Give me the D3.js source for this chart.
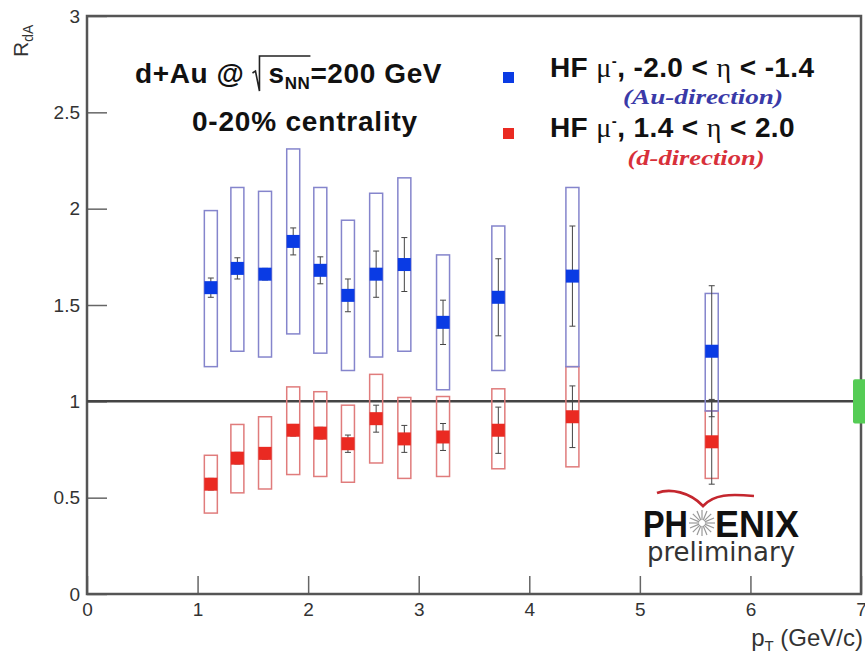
<!DOCTYPE html>
<html>
<head>
<meta charset="utf-8">
<script src="https://cdn.jsdelivr.net/npm/d3@7"></script>
<style>
  body { margin: 0; background: #fff; }
  svg { display: block; }
  .tick text { font-family: "Liberation Sans", Arial, sans-serif; fill: #333; }
</style>
</head>
<body>
<svg id="chart" width="865" height="656"></svg>
<script>
// pT bin centres (GeV/c)
var ptBins = [1.12, 1.36, 1.61, 1.865, 2.11, 2.36, 2.615, 2.87, 3.22, 3.72, 4.39, 5.65];

// Au-direction, -2.0 < eta < -1.4
var auVal   = [1.59, 1.69, 1.66, 1.83, 1.68, 1.55, 1.66, 1.71, 1.41, 1.54, 1.65, 1.26];
var auStat  = [0.05, 0.055, 0.03, 0.07, 0.07, 0.085, 0.12, 0.14, 0.115, 0.20, 0.26, 0.34];
var auSysLo = [1.18, 1.26, 1.23, 1.35, 1.25, 1.16, 1.23, 1.26, 1.06, 1.16, 1.18, 0.95];
var auSysHi = [1.99, 2.11, 2.09, 2.31, 2.11, 1.94, 2.08, 2.16, 1.76, 1.91, 2.11, 1.56];

// d-direction, 1.4 < eta < 2.0
var dVal   = [0.57, 0.705, 0.73, 0.85, 0.835, 0.78, 0.91, 0.805, 0.815, 0.85, 0.92, 0.79];
var dStat  = [0.03, 0.03, 0.03, 0.03, 0.03, 0.045, 0.07, 0.07, 0.07, 0.12, 0.16, 0.22];
var dSysLo = [0.42, 0.525, 0.545, 0.62, 0.61, 0.58, 0.68, 0.60, 0.61, 0.65, 0.66, 0.60];
var dSysHi = [0.72, 0.88, 0.92, 1.075, 1.05, 0.98, 1.14, 1.02, 1.025, 1.065, 1.18, 0.95];

// global normalisation uncertainty at unity
var normUnc = 0.115;

var xTicks = [0, 1, 2, 3, 4, 5, 6, 7];
var yTicks = [0, 0.5, 1, 1.5, 2, 2.5, 3];
var yTickLabels = ["0", "0.5", "1", "1.5", "2", "2.5", "3"];

var svg = d3.select("#chart");
var sans = "'Liberation Sans', Arial, sans-serif";
var serif = "'Liberation Serif', 'Times New Roman', serif";

var x = d3.scaleLinear().domain([0, 7]).range([87, 861]);
var y = d3.scaleLinear().domain([0, 3]).range([594, 16]);

// axes, ticks drawn inward
var yAxis = svg.append("g").attr("transform", "translate(87,0)")
  .call(d3.axisLeft(y).tickValues(yTicks).tickSize(-20).tickPadding(7)
    .tickFormat(function(d, i) { return yTickLabels[i]; }));
var xAxis = svg.append("g").attr("transform", "translate(0,594)")
  .call(d3.axisBottom(x).tickValues(xTicks).tickSize(-18).tickPadding(9)
    .tickFormat(d3.format("d")));
[yAxis, xAxis].forEach(function(a) {
  a.select(".domain").remove();
  a.selectAll(".tick line").attr("stroke", "#666").attr("stroke-width", 1.5);
  a.selectAll(".tick text").attr("font-size", 19);
});

// frame
svg.append("rect")
  .attr("x", x(0)).attr("y", y(3))
  .attr("width", x(7) - x(0)).attr("height", y(0) - y(3))
  .attr("fill", "none").attr("stroke", "#555").attr("stroke-width", 2.5);

// unity line
svg.append("line")
  .attr("x1", x(0)).attr("x2", x(7)).attr("y1", y(1)).attr("y2", y(1))
  .attr("stroke", "#444").attr("stroke-width", 2.5);

// normalisation box
svg.append("rect")
  .attr("x", x(7) - 8).attr("y", y(1 + normUnc))
  .attr("width", 14).attr("height", y(1 - normUnc) - y(1 + normUnc))
  .attr("rx", 2)
  .attr("fill", "#55cc55");

function drawSeries(val, stat, lo, hi, boxColor, markColor) {
  var pts = ptBins.map(function(p, i) {
    return { pt: p, v: val[i], s: stat[i], lo: lo[i], hi: hi[i] };
  });
  var g = svg.append("g");
  g.selectAll("rect.sys").data(pts).enter().append("rect")
    .attr("class", "sys")
    .attr("x", function(d) { return x(d.pt) - 6.5; })
    .attr("y", function(d) { return y(d.hi); })
    .attr("width", 13)
    .attr("height", function(d) { return y(d.lo) - y(d.hi); })
    .attr("fill", "none").attr("stroke", boxColor).attr("stroke-width", 1.5);
  g.selectAll("line.stat").data(pts).enter().append("line")
    .attr("class", "stat")
    .attr("x1", function(d) { return x(d.pt); })
    .attr("x2", function(d) { return x(d.pt); })
    .attr("y1", function(d) { return y(d.v + d.s); })
    .attr("y2", function(d) { return y(d.v - d.s); })
    .attr("stroke", "#444").attr("stroke-width", 1);
  [1, -1].forEach(function(sgn) {
    g.selectAll("line.cap" + sgn).data(pts).enter().append("line")
      .attr("x1", function(d) { return x(d.pt) - 3; })
      .attr("x2", function(d) { return x(d.pt) + 3; })
      .attr("y1", function(d) { return y(d.v + sgn * d.s); })
      .attr("y2", function(d) { return y(d.v + sgn * d.s); })
      .attr("stroke", "#444").attr("stroke-width", 1);
  });
  g.selectAll("rect.mark").data(pts).enter().append("rect")
    .attr("class", "mark")
    .attr("x", function(d) { return x(d.pt) - 6.5; })
    .attr("y", function(d) { return y(d.v) - 6.5; })
    .attr("width", 13).attr("height", 13)
    .attr("fill", markColor);
}

drawSeries(dVal, dStat, dSysLo, dSysHi, "#e07c7c", "#ea2a22");
drawSeries(auVal, auStat, auSysLo, auSysHi, "#8585cc", "#0a3be4");

// axis titles
var yl = svg.append("text")
  .attr("transform", "translate(28,57) rotate(-90)")
  .attr("font-family", sans).attr("font-size", 21).attr("fill", "#333");
yl.append("tspan").text("R");
yl.append("tspan").attr("font-size", 14).attr("dy", 5).text("dA");

var xl = svg.append("text")
  .attr("x", 863).attr("y", 646).attr("text-anchor", "end")
  .attr("font-family", sans).attr("font-size", 24).attr("fill", "#333");
xl.append("tspan").text("p");
xl.append("tspan").attr("font-size", 15).attr("dy", 5).text("T");
xl.append("tspan").attr("dy", -5).text(" (GeV/c)");

// header text
var t1 = svg.append("text")
  .attr("x", 135).attr("y", 83)
  .attr("font-family", sans).attr("font-weight", "bold").attr("font-size", 28)
  .attr("letter-spacing", 0.6).attr("fill", "#111");
t1.append("tspan").text("d+Au @");
var sqrtStart = t1.node().getComputedTextLength();
t1.append("tspan").attr("dx", 24).text("s");
t1.append("tspan").attr("font-size", 17).attr("dy", 6).text("NN");
var sqrtEnd = t1.node().getComputedTextLength() + 24;
t1.append("tspan").attr("dy", -6).text("=200 GeV");
var rx = 135 + sqrtStart + 11;
svg.append("path")
  .attr("d", "M" + (rx - 3) + ",73 L" + rx + ",71 L" + (rx + 4) + ",91 L" + (rx + 4) + ",56 L" + (135 + sqrtEnd) + ",56")
  .attr("fill", "none").attr("stroke", "#222").attr("stroke-width", 1.6);

svg.append("text")
  .attr("x", 305).attr("y", 131).attr("text-anchor", "middle")
  .attr("font-family", sans).attr("font-weight", "bold").attr("font-size", 28)
  .attr("letter-spacing", 0.8).attr("fill", "#111")
  .text("0-20% centrality");

// legend
var legend = [
  { color: "#0a3be4", eta: ", -2.0 < ", eta2: " < -1.4", dir: "(Au-direction)", dirColor: "#3a3aa8", ty: 77, sy: 72, dx: 703, dy: 104, dw: 160 },
  { color: "#ea2a22", eta: ", 1.4 < ", eta2: " < 2.0", dir: "(d-direction)", dirColor: "#d8303a", ty: 137, sy: 128, dx: 696, dy: 165, dw: 137 }
];
legend.forEach(function(l) {
  svg.append("rect").attr("x", 503).attr("y", l.sy).attr("width", 11).attr("height", 11).attr("fill", l.color);
  var t = svg.append("text").attr("x", 550).attr("y", l.ty)
    .attr("font-family", sans).attr("font-weight", "bold").attr("font-size", 28)
    .attr("letter-spacing", 0.4).attr("fill", "#111");
  t.append("tspan").text("HF ");
  t.append("tspan").attr("font-family", serif).attr("font-weight", "normal").text("\u03bc");
  t.append("tspan").attr("font-size", 15).attr("dy", -11).text("-");
  t.append("tspan").attr("dy", 11).text(l.eta);
  t.append("tspan").attr("font-family", serif).attr("font-weight", "normal").text("\u03b7");
  t.append("tspan").text(l.eta2);
  svg.append("text").attr("x", l.dx - l.dw / 2).attr("y", l.dy)
    .attr("font-family", serif).attr("font-weight", "bold").attr("font-style", "italic")
    .attr("font-size", 21).attr("fill", l.dirColor)
    .attr("textLength", l.dw).attr("lengthAdjust", "spacingAndGlyphs")
    .text(l.dir);
});

// PHENIX preliminary logo
svg.append("path")
  .attr("d", "M657,493 C670,488 690,492 703,506 C714,494 730,494 754,496")
  .attr("fill", "none").attr("stroke", "#c4262e").attr("stroke-width", 2.6);
svg.append("text").attr("x", 643).attr("y", 537)
  .attr("font-family", sans).attr("font-weight", "bold").attr("font-size", 36).attr("fill", "#111")
  .attr("textLength", 45).attr("lengthAdjust", "spacingAndGlyphs").text("PH");
svg.append("text").attr("x", 715).attr("y", 537)
  .attr("font-family", sans).attr("font-weight", "bold").attr("font-size", 36).attr("fill", "#111")
  .attr("textLength", 84).attr("lengthAdjust", "spacingAndGlyphs").text("ENIX");
var star = svg.append("g").attr("transform", "translate(702,523)");
d3.range(16).forEach(function(k) {
  var a = k * Math.PI / 8;
  star.append("line")
    .attr("x1", 3 * Math.cos(a)).attr("y1", 3 * Math.sin(a))
    .attr("x2", 13 * Math.cos(a)).attr("y2", 13 * Math.sin(a))
    .attr("stroke", "#999").attr("stroke-width", 1.2);
});
svg.append("text").attr("x", 721).attr("y", 561).attr("text-anchor", "middle")
  .attr("font-family", "'DejaVu Sans', sans-serif").attr("font-size", 26).attr("fill", "#333")
  .text("preliminary");
</script>
</body>
</html>
